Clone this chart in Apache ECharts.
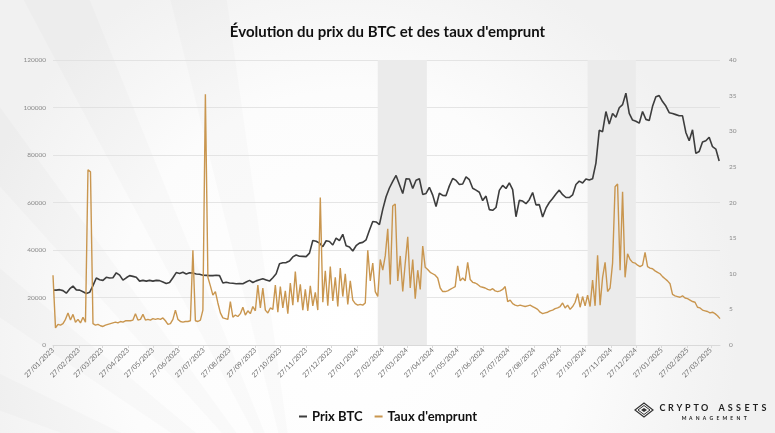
<!DOCTYPE html>
<html>
<head>
<meta charset="utf-8">
<script src="https://cdn.jsdelivr.net/npm/echarts@6/dist/echarts.min.js"></script>
<style>
  html, body { margin: 0; padding: 0; background: #fff; }
  #chart { width: 775px; height: 433px; }
</style>
</head>
<body>
<div id="chart"></div>
<script>
// daily axis, first and last day of the series
const startDay = [2023, 0, 27];
const endDay = [2025, 3, 7];

// BTC close (USD), one reading every 4 days from startDay
const btcStep = 4;
const btcPrice = [
  23100, 23100, 23300, 22900, 21800, 23600, 24800, 23200, 23100, 22400,
  21700, 22200, 25000, 28200, 27500, 27200, 28500, 28200, 28300, 30400,
  29400, 27300, 28300, 29200, 28900, 28500, 26900, 27200, 26900, 27200,
  26900, 27200, 27100, 26500, 25900, 26300, 28300, 30500, 30100, 30600,
  29900, 30400, 30300, 29900, 29800, 29400, 29300, 29200, 29200, 29400,
  29200, 26100, 26400, 26100, 26000, 25800, 25900, 25800, 26500, 27200,
  26300, 27000, 27500, 27900, 27400, 26900, 28300, 30000, 34200, 34600,
  34700, 35400, 37100, 37900, 37400, 37300, 37200, 38700, 44000, 43700,
  42900, 41400, 43900, 43600, 42100, 45000, 43900, 46600, 41800, 41300,
  39600, 41800, 42900, 43200, 44300, 48300, 52000, 51800, 50700, 57100,
  62400, 66100, 68900, 71400, 67600, 63800, 70000, 69900, 65900, 69400,
  70000, 63400, 63800, 66400, 63100, 58300, 63900, 63000, 62900, 67000,
  70100, 69300, 67600, 67800, 70800, 69600, 66000, 65200, 64300, 60800,
  62700, 57000, 56700, 57900, 65100, 67200, 65900, 68300, 65400, 54000,
  60900, 60600, 59500, 61200, 64200, 59000, 59100, 53900, 57600, 60000,
  61700, 63600, 65200, 63300, 62100, 62100, 63200, 67600, 69000, 68200,
  69900, 69500, 70000, 76600, 90400, 89800, 98300, 93000, 97500, 95900,
  99900, 101200, 106000, 97500, 94700, 94200, 93400, 98300, 95000, 94500,
  100500, 104500, 105000, 102500, 100600, 97800, 97500, 97000, 96500, 96500,
  89500, 86000, 90600, 80700, 81500, 85500, 86000, 87500, 83500, 82500,
  77500
];

// borrowing rate (%), one reading every 3 days from startDay
const rateStep = 3;
const borrowRate = [
  9.8, 2.4, 2.9, 2.8, 3.0, 3.6, 4.5, 3.5, 4.3, 3.2,
  3.6, 3.1, 3.9, 3.2, 24.6, 24.3, 3.0, 2.8, 2.9, 2.7,
  2.6, 2.8, 2.9, 3.0, 3.1, 3.2, 3.1, 3.3, 3.2, 3.4,
  3.4, 3.4, 3.5, 4.4, 3.5, 3.6, 4.3, 3.5, 3.6, 3.5,
  3.7, 3.6, 3.7, 3.6, 3.8, 3.4, 2.9, 3.0, 3.6, 4.9,
  3.6, 3.3, 3.2, 3.3, 3.3, 3.4, 13.3, 3.4, 3.3, 3.5,
  4.9, 35.2, 9.5, 8.3, 7.0, 7.5, 5.9, 4.5, 3.8, 3.7,
  3.6, 6.1, 3.9, 4.2, 4.0, 4.4, 5.3, 4.2, 4.8, 4.4,
  5.4, 4.8, 8.4, 5.2, 8.0, 4.9, 4.5, 5.2, 5.0, 8.4,
  4.6, 8.2, 5.2, 7.6, 4.4, 8.7, 5.6, 10.3, 6.0, 8.5,
  4.9, 7.8, 4.8, 8.3, 5.5, 7.4, 4.9, 20.7, 6.0, 10.4,
  5.5, 11.0, 6.2, 9.5, 5.4, 10.8, 6.8, 10.0, 5.7, 9.0,
  6.3, 5.8, 5.6, 5.7, 5.6, 5.9, 13.3, 9.0, 11.5, 7.5,
  6.8, 12.0, 10.5, 12.5, 16.3, 8.5, 19.5, 19.8, 9.0, 12.5,
  7.5, 11.5, 15.2, 8.0, 12.0, 6.5, 10.5, 7.8, 13.9, 10.9,
  10.6, 10.2, 10.0, 9.8, 9.4, 8.0, 7.5, 7.5, 7.6, 7.8,
  8.0, 8.2, 11.1, 9.0, 9.4, 9.0, 11.6, 9.2, 8.8, 8.7,
  8.5, 8.2, 8.1, 8.0, 7.8, 7.7, 7.9, 7.6, 7.5, 7.6,
  7.8, 8.2, 6.1, 6.3, 5.8, 5.6, 5.5, 5.6, 5.5, 5.4,
  5.5, 5.6, 5.4, 5.2, 5.0, 4.6, 4.4, 4.5, 4.6, 4.8,
  4.9, 5.1, 5.2, 5.4, 5.9, 5.2, 5.6, 5.0, 5.4, 6.0,
  7.2, 5.3, 6.8, 5.5, 7.0, 5.4, 9.1, 5.5, 12.6, 5.6,
  9.5, 11.6, 7.5, 8.0, 11.5, 22.2, 22.6, 10.5, 21.5, 9.5,
  12.8, 12.0, 11.6, 11.5, 11.2, 11.0, 11.2, 13.0, 11.0, 10.8,
  10.7, 10.4, 10.2, 10.0, 9.6, 9.3, 9.0, 8.6, 7.1, 6.9,
  6.8, 6.7, 6.9, 6.6, 6.5, 6.3, 6.1, 6.0, 5.3, 5.2,
  4.9, 4.8, 4.7, 4.5, 4.6, 4.4, 4.1, 3.7
];

// grey bands
const shadedPeriods = [
  ['21/02/2024', '20/04/2024'],
  ['30/10/2024', '27/12/2024']
];

const seriesNames = ['Prix BTC', "Taux d'emprunt"];
const leftAxis = { min: 0, max: 120000, interval: 20000 };
const rightAxis = { min: 0, max: 40, interval: 5 };

function fmtDay(t) {
  const d = new Date(t);
  const dd = String(d.getUTCDate()).padStart(2, '0');
  const mm = String(d.getUTCMonth() + 1).padStart(2, '0');
  return dd + '/' + mm + '/' + d.getUTCFullYear();
}

const days = [];
for (let t = Date.UTC(...startDay); t <= Date.UTC(...endDay); t += 86400000) {
  days.push(fmtDay(t));
}

const btcData = days.map(() => null);
btcPrice.forEach((v, i) => { btcData[i * btcStep] = v; });
const rateData = days.map(() => null);
borrowRate.forEach((v, i) => { rateData[i * rateStep] = v; });

const onThe27th = (idx, val) => val.slice(0, 2) === '27';

// soft light rays in the background
const rays = [];
const ox = 300, oy = 520;
for (let a = 98; a <= 262; a += 14) {
  const r = 1200;
  const a1 = a * Math.PI / 180, a2 = (a + 6) * Math.PI / 180;
  rays.push({
    type: 'polygon',
    silent: true,
    z: -10,
    shape: { points: [[ox, oy], [ox + r * Math.cos(a1), oy - r * Math.sin(a1)], [ox + r * Math.cos(a2), oy - r * Math.sin(a2)]] },
    style: { fill: 'rgba(0,0,0,0.014)' }
  });
}

// logo, letter spaced by hand
function spaced(str, x0, step, y, font) {
  return str.split('').map((ch, i) => ({
    type: 'text', x: x0 + i * step, y: y, silent: true,
    style: { text: ch, font: font, fill: '#222', align: 'center' }
  }));
}
const logo = [
  { type: 'polygon', shape: { points: [[635, 410], [644, 403], [653, 410], [644, 417]] }, style: { fill: 'none', stroke: '#333', lineWidth: 1.2 } },
  { type: 'polygon', shape: { points: [[638, 410], [644, 405.5], [650, 410], [644, 414.5]] }, style: { fill: 'none', stroke: '#333', lineWidth: 1 } },
  { type: 'polygon', shape: { points: [[641, 410], [644, 408], [647, 410], [644, 412]] }, style: { fill: '#333' } }
].concat(
  spaced('CRYPTO ASSETS', 662.5, 8.45, 404, 'bold 9px Lato'),
  spaced('MANAGEMENT', 684, 6.8, 415.5, 'bold 5px Lato')
);

const chart = echarts.init(document.getElementById('chart'));
chart.setOption({
  backgroundColor: {
    type: 'radial', x: 0.45, y: 0.75, r: 0.9,
    colorStops: [{ offset: 0, color: '#ffffff' }, { offset: 0.6, color: '#fcfcfc' }, { offset: 1, color: '#f1f1f1' }]
  },
  animation: false,
  title: {
    text: "Évolution du prix du BTC et des taux d'emprunt",
    left: 'center',
    top: 20,
    textStyle: { fontFamily: 'Lato', fontWeight: 'bold', fontSize: 15, color: '#111' }
  },
  legend: {
    data: seriesNames,
    left: 294,
    top: 405,
    icon: 'rect',
    itemWidth: 8,
    itemHeight: 2,
    itemGap: 12,
    textStyle: { fontFamily: 'Lato', fontWeight: 'bold', fontSize: 13, color: '#111' }
  },
  graphic: rays.concat(logo),
  grid: { left: 53, right: 55, top: 60, bottom: 88 },
  xAxis: {
    type: 'category',
    data: days,
    boundaryGap: false,
    axisLine: { lineStyle: { color: '#d9d9d9' } },
    axisTick: { interval: onThe27th, length: 3, lineStyle: { color: '#d9d9d9' } },
    axisLabel: {
      interval: onThe27th,
      rotate: 45,
      fontSize: 7,
      color: '#6e6e6e',
      fontFamily: 'Lato',
      margin: 4
    },
    splitLine: { show: false }
  },
  yAxis: [
    {
      type: 'value',
      min: leftAxis.min, max: leftAxis.max, interval: leftAxis.interval,
      axisLine: { show: false },
      axisTick: { show: false },
      axisLabel: { fontSize: 6.5, color: '#8a8a8a', fontFamily: 'Lato', margin: 7, formatter: v => String(v) },
      splitLine: { lineStyle: { color: '#dedede', width: 0.8 } }
    },
    {
      type: 'value',
      min: rightAxis.min, max: rightAxis.max, interval: rightAxis.interval,
      axisLine: { show: false },
      axisTick: { show: false },
      axisLabel: { fontSize: 6.5, color: '#8a8a8a', fontFamily: 'Lato', margin: 9 },
      splitLine: { show: false }
    }
  ],
  series: [
    {
      name: seriesNames[0],
      type: 'line',
      data: btcData,
      connectNulls: true,
      showSymbol: false,
      lineStyle: { color: '#3d3d3d', width: 1.6 },
      itemStyle: { color: '#3d3d3d' },
      markArea: {
        silent: true,
        itemStyle: { color: '#ebebeb' },
        data: shadedPeriods.map(p => [{ xAxis: p[0] }, { xAxis: p[1] }])
      },
      z: 3
    },
    {
      name: seriesNames[1],
      type: 'line',
      yAxisIndex: 1,
      data: rateData,
      connectNulls: true,
      showSymbol: false,
      lineStyle: { color: '#c9964f', width: 1.4 },
      itemStyle: { color: '#c9964f' },
      z: 4
    }
  ]
});
</script>
</body>
</html>
